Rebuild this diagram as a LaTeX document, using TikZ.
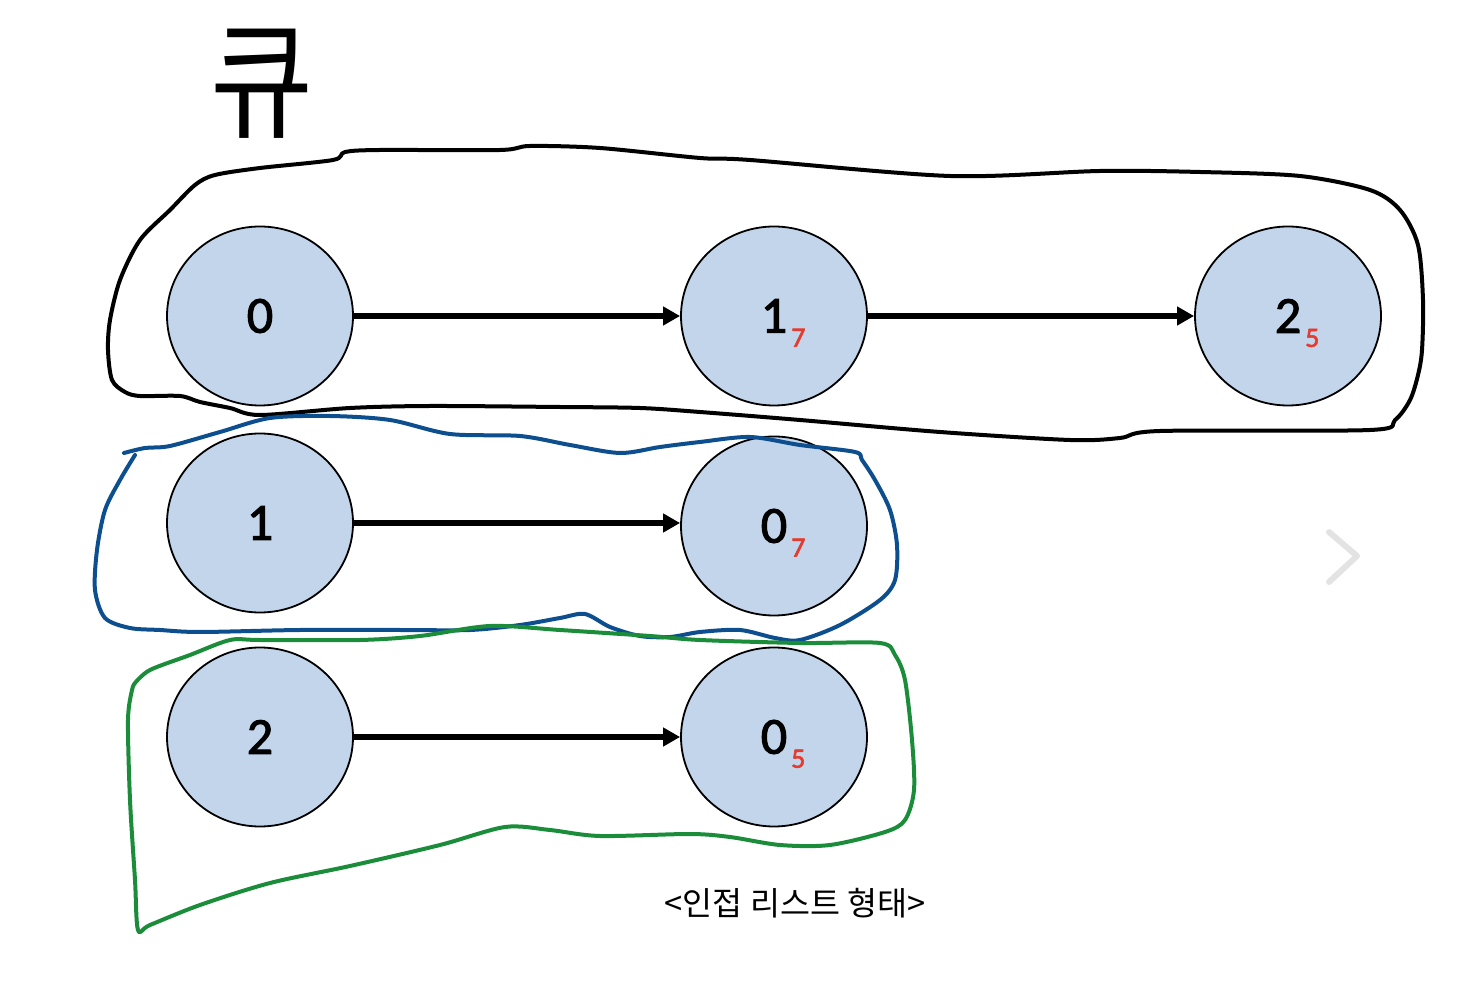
\documentclass[tikz,border=0pt]{standalone}
\usepackage{fontspec}
\setmainfont{Carlito}
\newfontface\digfont{Carlito}[FakeBold=2]
\newfontfamily\kofont{Noto Sans CJK KR}
\usetikzlibrary{arrows.meta,shapes.geometric}
\definecolor{nodeblue}{HTML}{C2D5EA}
\definecolor{subred}{HTML}{E53A2E}
\definecolor{penblue}{HTML}{0D4E8E}
\definecolor{pengreen}{HTML}{1A8C3A}
% vertex label with a small red weight
\newcommand{\wlabel}[2]{#1\rlap{\hspace{2pt}\raisebox{-7pt}[0pt][0pt]{\fontsize{14}{14}\selectfont\color{subred}#2}}}

\begin{document}
\begin{tikzpicture}[x=0.5pt,y=-0.5pt,
  vert/.style={ellipse,draw,fill=nodeblue,line width=0.9pt,minimum width=93pt,minimum height=89.5pt,inner sep=0pt,font=\digfont\fontsize{26}{26}\selectfont},
  edge/.style={line width=2.8pt,-{Triangle[length=8.5pt,width=9pt]}},
  pen/.style={line width=2pt,line join=round,line cap=round}]
  \useasboundingbox (0,0) rectangle (1482,1004);

  % row 0
  \node[vert] (r0a) at (260,316) {0};
  \node[vert] (r0b) at (774,316) {\wlabel{1}{7}};
  \node[vert] (r0c) at (1288,316) {\wlabel{2}{5}};
  % row 1
  \node[vert] (r1a) at (260,523) {1};
  \node[vert] (r1b) at (774,526) {\wlabel{0}{7}};
  % row 2
  \node[vert] (r2a) at (260,737) {2};
  \node[vert] (r2b) at (774,737) {\wlabel{0}{5}};

  \draw[edge] (r0a) -- (r0b);
  \draw[edge] (r0b) -- (r0c);
  \draw[edge] (r1a) -- (r1a -| r1b.west);
  \draw[edge] (r2a) -- (r2b);

  % hand drawn marks
  \node[font=\kofont\fontsize{56}{56}\selectfont,yscale=1.15] (queue) at (262,84) {큐};
  \draw[pen,black] plot[smooth cycle,tension=0.5] coordinates {
    (333,160) (345,152) (380,150) (500,150) (530,146) (600,148) (700,158) (750,160)
    (950,176) (1100,171) (1200,172) (1300,176) (1370,190) (1400,210) (1418,245)
    (1423,300) (1422,350) (1418,375) (1410,400) (1395,420) (1370,430) (1160,431)
    (1120,438) (1070,440) (940,432) (800,420) (700,412) (640,408) (560,407) (430,406)
    (350,408) (260,415) (230,408) (200,402) (180,396) (140,396) (125,392) (112,380)
    (108,350) (110,320) (120,280) (140,240) (170,210) (195,185) (215,175) (260,168)};
  \draw[pen,penblue] plot[smooth,tension=0.5] coordinates {
    (124,453) (145,448) (170,446) (220,432) (270,418) (330,416) (390,420) (450,434)
    (520,436) (570,445) (620,453) (660,447) (700,442) (750,437) (800,445) (855,452)
    (862,460) (875,480) (890,510) (897,545) (895,580) (880,600) (840,625) (800,640)
    (775,638) (740,630) (700,632) (670,637) (640,636) (610,627) (585,614) (560,618)
    (520,625) (470,630) (400,630) (300,630) (200,632) (160,630) (130,628) (105,618)
    (95,590) (97,550) (105,510) (120,480) (135,455)};
  \draw[pen,pengreen] plot[smooth,tension=0.5] coordinates {
    (135,683) (150,670) (190,655) (230,640) (260,640) (360,640) (420,636) (490,626)
    (560,630) (650,636) (700,640) (800,643) (880,643) (895,655) (905,680) (912,740)
    (914,790) (905,820) (885,832) (830,845) (780,845) (730,837) (690,834) (600,836)
    (550,830) (505,827) (440,845) (350,866) (270,883) (200,905) (150,925) (138,930)
    (135,880) (130,800) (128,720) (132,690) (135,683)};

  % caption and pager mark
  \node[font=\kofont\fontsize{16.3}{16.3}\selectfont] (caption) at (795,903) {<인접 리스트 형태>};
  \draw[gray!22,line width=3pt,line cap=round,line join=round] (1329,532) -- (1357,556) -- (1329,582);
\end{tikzpicture}
\end{document}
